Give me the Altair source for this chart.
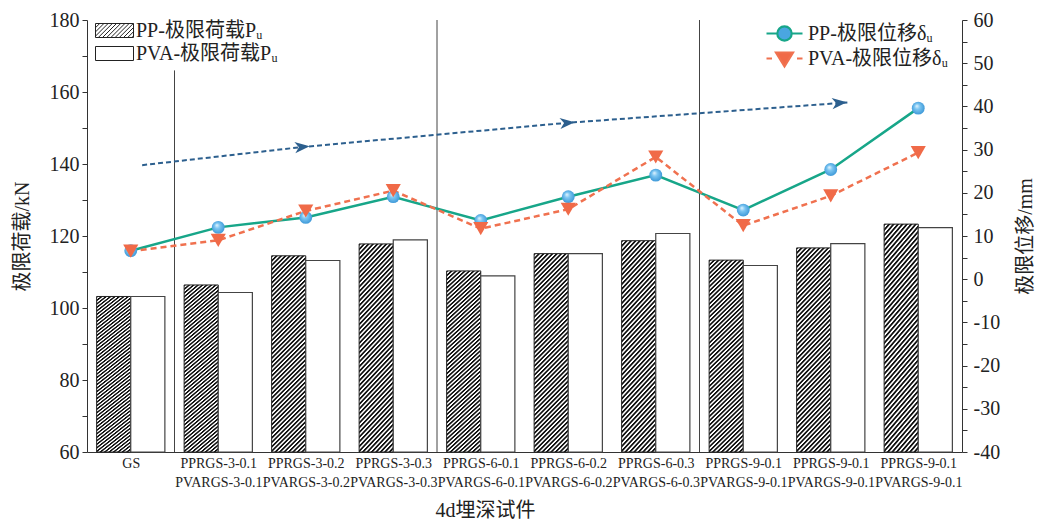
import json
import altair as alt
import pandas as pd

# ---------------- data ----------------
label_line1 = ["GS", "PPRGS-3-0.1", "PPRGS-3-0.2", "PPRGS-3-0.3", "PPRGS-6-0.1",
               "PPRGS-6-0.2", "PPRGS-6-0.3", "PPRGS-9-0.1", "PPRGS-9-0.1", "PPRGS-9-0.1"]
label_line2 = ["", "PVARGS-3-0.1", "PVARGS-3-0.2", "PVARGS-3-0.3", "PVARGS-6-0.1",
               "PVARGS-6-0.2", "PVARGS-6-0.3", "PVARGS-9-0.1", "PVARGS-9-0.1", "PVARGS-9-0.1"]
pp_load = [103.2, 106.4, 114.5, 117.8, 110.3, 115.1, 118.7, 113.3, 116.7, 123.3]
pva_load = [103.2, 104.3, 113.2, 118.9, 108.9, 115.1, 120.7, 111.8, 117.9, 122.3]
pp_disp = [6.6, 12.0, 14.3, 19.1, 13.6, 19.1, 24.1, 16.0, 25.4, 39.6]
pva_disp = [6.5, 9.0, 15.8, 20.5, 11.7, 16.2, 28.3, 12.4, 19.3, 29.3]
bar_series = ["PP-极限荷载Pᵤ", "PVA-极限荷载Pᵤ"]
line_series = ["PP-极限位移δᵤ", "PVA-极限位移δᵤ"]
sep_pos = [0.5, 3.5, 6.5]
sep_top = [166, 180, 180]
trend_x = [0.13, 1.96, 4.99, 8.19]
trend_y = [26.4, 30.6, 36.2, 40.9]
arrow_x = [1.96, 4.99, 8.1]
arrow_y = [30.6, 36.2, 40.8]

# ---------------- styles ----------------
FONT = "Liberation Serif, DejaVu Serif, Noto Sans CJK SC"
TEAL = "#17a689"
ORANGE = "#f0714f"
TREND = "#2c5f8e"

# hatch fill via striped linear gradient (about 45 degree stripes on the bars)
N = 52
stops = []
for k in range(N):
    stops.append(alt.GradientStop(color="#111111", offset=k / N))
    stops.append(alt.GradientStop(color="#111111", offset=(k + 0.3) / N))
    stops.append(alt.GradientStop(color="#ffffff", offset=(k + 0.55) / N))
    stops.append(alt.GradientStop(color="#ffffff", offset=(k + 0.8) / N))
    stops.append(alt.GradientStop(color="#111111", offset=(k + 1) / N))
hatch = alt.LinearGradient(gradient="linear", stops=stops, x1=0, y1=0, x2=0.198, y2=1.139)

sphere = alt.RadialGradient(
    gradient="radial",
    stops=[alt.GradientStop(color="#eaf7ff", offset=0),
           alt.GradientStop(color="#7cc6f2", offset=0.35),
           alt.GradientStop(color="#2f8ed2", offset=1)],
    x1=0.38, y1=0.32, r1=0, x2=0.5, y2=0.5, r2=0.6)

# legend symbol paths (units of 10 px with symbolSize 400)
L, R, H = -1.0, 2.8, 0.7
rect_path = f"M{L},-{H}H{R}V{H}H{L}Z"
segs = []
c = L - 2 * H
while c < R:
    xa, ya = c, H
    xb, yb = c + 2 * H, -H
    if xa < L:
        ya = H - (L - c)
        xa = L
    if xb > R:
        yb = H - (R - c)
        xb = R
    segs.append(f"M{xa:.3f},{ya:.3f}L{xb:.3f},{yb:.3f}")
    c += 0.42
hatch_path = rect_path + "".join(segs)
cx, rr = 0.8, 0.72
circ_path = (f"M-1,0H{cx - rr}M{cx + rr},0H2.6"
             f"M{cx - rr},0A{rr},{rr},0,1,0,{cx + rr},0A{rr},{rr},0,1,0,{cx - rr},0Z")
tri_path = f"M-1,0H-0.45M2.05,0H2.6M{cx - 0.85},-0.6L{cx + 0.85},-0.6L{cx},0.8Z"
arrow_path = "M-1,-0.75L1,0L-1,0.75L-0.45,0Z"

# ---------------- tables ----------------
idx = list(range(10))
bars_df = pd.DataFrame({"i": idx, "pp": pp_load, "pva": pva_load})
bar_long = pd.DataFrame({"i": idx * 2, "load": pp_load + pva_load,
                         "s": [bar_series[0]] * 10 + [bar_series[1]] * 10})
sep_df = pd.DataFrame({"pos": sep_pos, "load": sep_top})
line_df = pd.DataFrame({"i": idx, "pp": pp_disp, "pva": pva_disp})
line_long = pd.DataFrame({"i": idx * 2, "disp": pp_disp + pva_disp,
                          "s": [line_series[0]] * 10 + [line_series[1]] * 10})
trend_df = pd.DataFrame({"i": trend_x, "disp": trend_y})
arrow_df = pd.DataFrame({"i": arrow_x, "disp": arrow_y})

# ---------------- scales / axes ----------------
x_scale = alt.Scale(domain=[-0.5, 9.5], nice=False, zero=False)
label_arr = "[" + ",".join(json.dumps(a) if not b else json.dumps([a, b])
                           for a, b in zip(label_line1, label_line2)) + "]"
x_axis = alt.Axis(title="4d埋深试件", values=idx, labelExpr=f"{label_arr}[datum.value]",
                  ticks=False, grid=False, labelFont=FONT, labelFontSize=14,
                  labelLineHeight=19, labelPadding=4, labelOverlap=False,
                  labelBound=False, labelFlush=False, labelColor="#222",
                  titleFont=FONT, titleFontSize=20, titleFontWeight="normal",
                  titlePadding=11, titleX=398, titleColor="#222", domainColor="#333")
yl_scale = alt.Scale(domain=[60, 180], nice=False, zero=False)
yl_axis = alt.Axis(title="极限荷载/kN", values=list(range(60, 181, 10)),
                   labelExpr="datum.value % 20 == 0 ? datum.label : ''",
                   grid=False, tickSize=5, tickColor="#333", domainColor="#333",
                   labelFont=FONT, labelFontSize=20, labelPadding=3, labelColor="#222",
                   titleFont=FONT, titleFontSize=20, titleFontWeight="normal",
                   titlePadding=17, titleColor="#222")
yr_scale = alt.Scale(domain=[-40, 60], nice=False, zero=False)
yr_axis = alt.Axis(title="极限位移/mm", orient="right", values=list(range(-40, 61, 5)),
                   labelExpr="datum.value % 10 == 0 ? '' + datum.value : ''",
                   grid=False, tickSize=5, tickColor="#333", domainColor="#333",
                   labelFont=FONT, labelFontSize=20, labelPadding=6, labelColor="#222",
                   titleFont=FONT, titleFontSize=20, titleFontWeight="normal",
                   titlePadding=36, titleAngle=270, titleColor="#222")


def X(field):
    return alt.X(field, scale=x_scale, axis=x_axis)


def YL(field):
    return alt.Y(field, scale=yl_scale, axis=yl_axis)


def YR(field):
    return alt.Y(field, scale=yr_scale, axis=yr_axis)


# ---------------- left group (loads) ----------------
pp_bar = alt.Chart(bars_df).transform_calculate(
    x0="datum.i - 0.39", x1="datum.i"
).mark_bar(fill=hatch, stroke="#222", strokeWidth=1).encode(
    x=X("x0:Q"), x2="x1:Q", y=YL("pp:Q"), y2=alt.datum(60))

pva_bar = alt.Chart(bars_df).transform_calculate(
    x0="datum.i", x1="datum.i + 0.39"
).mark_bar(fill="white", stroke="#444", strokeWidth=1.2).encode(
    x=X("x0:Q"), x2="x1:Q", y=YL("pva:Q"), y2=alt.datum(60))

seps = alt.Chart(sep_df).mark_rule(color="#444", strokeWidth=1).encode(
    x=X("pos:Q"), y=YL("load:Q"), y2=alt.datum(60))

bar_legend = alt.Chart(bar_long).mark_point(opacity=0).encode(
    x=X("i:Q"), y=YL("load:Q"),
    shape=alt.Shape("s:N", scale=alt.Scale(domain=bar_series, range=[hatch_path, rect_path]),
                    legend=alt.Legend(title=None, orient="none", legendX=8, legendY=0,
                                      symbolSize=400, symbolFillColor="white",
                                      symbolStrokeColor="#222", symbolStrokeWidth=1,
                                      symbolOpacity=1, labelFont=FONT, labelFontSize=20,
                                      labelColor="#222", labelOffset=20, rowPadding=2,
                                      labelLimit=300)))

left = alt.layer(pp_bar, pva_bar, seps, bar_legend)

# ---------------- right group (displacements) ----------------
pp_line = alt.Chart(line_df).mark_line(color=TEAL, strokeWidth=2.5).encode(
    x=X("i:Q"), y=YR("pp:Q"))
pva_line = alt.Chart(line_df).mark_line(color=ORANGE, strokeWidth=2.5, strokeDash=[6, 4]).encode(
    x=X("i:Q"), y=YR("pva:Q"))
trend = alt.Chart(trend_df).mark_line(color=TREND, strokeWidth=2, strokeDash=[5, 3]).encode(
    x=X("i:Q"), y=YR("disp:Q"))
arrows = alt.Chart(arrow_df).mark_point(shape=arrow_path, filled=True, color=TREND,
                                        opacity=1, size=220, angle=355).encode(
    x=X("i:Q"), y=YR("disp:Q"))
pp_pts = alt.Chart(line_df).mark_point(shape="circle", filled=True, fill=sphere,
                                       opacity=1, size=165, strokeWidth=0).encode(
    x=X("i:Q"), y=YR("pp:Q"))
pva_pts = alt.Chart(line_df).mark_point(shape="triangle-down", filled=True, color="#f06a48",
                                        opacity=1, size=230).encode(
    x=X("i:Q"), y=YR("pva:Q"))
leg_kw = dict(title=None, orient="none", legendX=678, legendY=2)
line_legend = alt.Chart(line_long).mark_point(opacity=0).encode(
    x=X("i:Q"), y=YR("disp:Q"),
    shape=alt.Shape("s:N", scale=alt.Scale(domain=line_series, range=[circ_path, tri_path]),
                    legend=alt.Legend(**leg_kw, symbolSize=400, symbolStrokeWidth=2.2,
                                      symbolOpacity=1, labelFont=FONT, labelFontSize=20,
                                      labelColor="#222", labelOffset=20, rowPadding=1,
                                      labelLimit=300)),
    fill=alt.Fill("s:N", scale=alt.Scale(domain=line_series, range=["#4aa6e0", "#f06a48"]),
                  legend=alt.Legend(**leg_kw)),
    stroke=alt.Stroke("s:N", scale=alt.Scale(domain=line_series, range=[TEAL, ORANGE]),
                      legend=alt.Legend(**leg_kw)))

right = alt.layer(pp_line, pva_line, trend, arrows, pp_pts, pva_pts, line_legend)

chart = alt.layer(left, right).resolve_scale(
    y="independent", shape="independent", fill="independent", stroke="independent"
).properties(
    width=875, height=432,
    autosize=alt.AutoSizeParams(type="none"),
    padding={"left": 79, "top": 12, "right": 73, "bottom": 70},
).configure_view(strokeWidth=0)

chart.save("out.html", embed_options={"renderer": "svg", "actions": False})
